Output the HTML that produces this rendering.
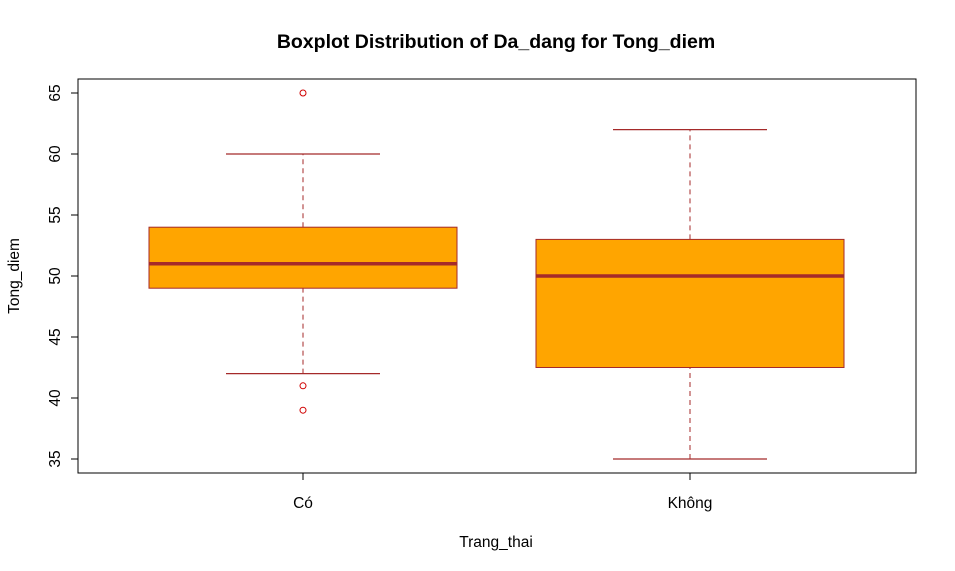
<!DOCTYPE html>
<html><head><meta charset="utf-8"><style>body{margin:0;background:#fff}svg{display:block;font-family:"Liberation Sans",Arial,sans-serif}</style></head>
<body>
<svg id="chart" width="955" height="571">
<text x="496" y="48" text-anchor="middle" font-size="19.5" font-weight="bold">Boxplot Distribution of Da_dang for Tong_diem</text>
<rect x="78" y="79" width="838" height="394" fill="none" stroke="#000"/>
<text x="496" y="547" text-anchor="middle" font-size="15.5">Trang_thai</text>
<text transform="translate(19,276) rotate(-90)" text-anchor="middle" font-size="15.5">Tong_diem</text>
<g id="marks"></g>
</svg>
<script>
const categories = ["Có", "Không"];
const whiskerLow = [42, 35];
const q1 = [49, 42.5];
const medians = [51, 50];
const q3 = [54, 53];
const whiskerHigh = [60, 62];
const outliers = [[65, 41, 39], []];
const yTicks = [35, 40, 45, 50, 55, 60, 65];

const NS = "http://www.w3.org/2000/svg";
const g = document.getElementById("marks");
const y = v => 459 + (v - 35) * (93 - 459) / 30;
const xc = i => 303 + i * 387;
const half = 154;
function mk(tag, attrs, parent) {
  const e = document.createElementNS(NS, tag);
  for (const k in attrs) e.setAttribute(k, attrs[k]);
  (parent || g).appendChild(e);
  return e;
}
const brown = "#A52A2A";
const ya = mk("line", {x1: 78, x2: 78, y1: y(35), y2: y(65), stroke: "#000"});


yTicks.forEach(t => {
  const l = mk("line", {x1: 71, x2: 78, y1: y(t), y2: y(t), stroke: "#000"});
  
  
  const tx = mk("text", {transform: `translate(60,${y(t)}) rotate(-90)`, "text-anchor": "middle", "font-size": 15.5});
  tx.textContent = t;
  
  
});
categories.forEach((c, i) => {
  const x = xc(i);
  const l = mk("line", {x1: x, x2: x, y1: 473, y2: 480, stroke: "#000"});
  
  
  const tx = mk("text", {x: x, y: 508, "text-anchor": "middle", "font-size": 15.5});
  tx.textContent = c;
  
  
  [[whiskerLow[i], q1[i]], [q3[i], whiskerHigh[i]]].forEach(([a, b]) => {
    const w = mk("line", {x1: x, x2: x, y1: y(a), y2: y(b), stroke: brown, "stroke-dasharray": "5,4"});
    
    
  });
  [whiskerLow[i], whiskerHigh[i]].forEach(v => {
    const cp = mk("line", {x1: x - half / 2, x2: x + half / 2, y1: y(v), y2: y(v), stroke: brown, "stroke-width": 1.3});
    
    
  });
  const b = mk("rect", {x: x - half, width: half * 2, y: y(q3[i]), height: y(q1[i]) - y(q3[i]), fill: "#FFA500", stroke: brown});
  
  
  const m = mk("line", {x1: x - half, x2: x + half, y1: y(medians[i]), y2: y(medians[i]), stroke: brown, "stroke-width": 3.5});
  
  
  outliers[i].forEach(v => {
    const o = mk("circle", {cx: x, cy: y(v), r: 3, fill: "none", stroke: "#D00000"});
    
    
  });
});
</script>
</body></html>
